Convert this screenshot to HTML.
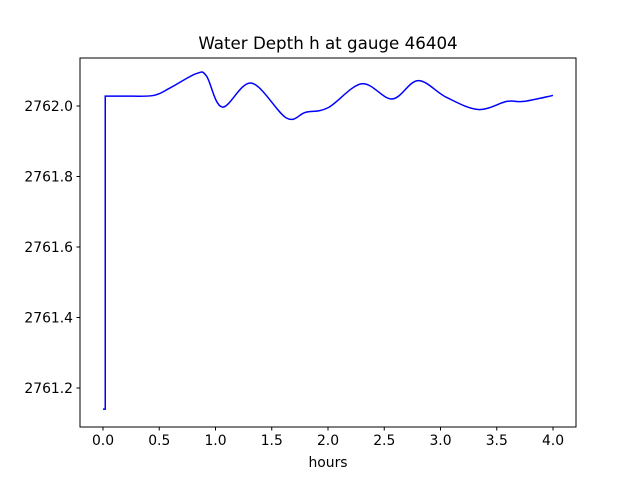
<!DOCTYPE html>
<html><head><meta charset="utf-8"><style>body{margin:0;background:#fff}svg{display:block;font-family:"DejaVu Sans","Liberation Sans",sans-serif}</style></head>
<body>
<svg id="c" width="640" height="480"></svg>
<script>
const hours=[0,0.02,0.02,0.2,0.45,0.6,0.83,0.92,1.06,1.32,1.63,1.8,2.0,2.3,2.57,2.8,3.05,3.335,3.59,3.74,4.0];
const depth=[2761.14,2761.14,2762.028,2762.028,2762.03,2762.052,2762.092,2762.085,2761.997,2762.065,2761.966,2761.982,2761.995,2762.063,2762.02,2762.072,2762.025,2761.99,2762.013,2762.013,2762.03];
const xTicks=[0,0.5,1,1.5,2,2.5,3,3.5,4];
const xTickLabels=["0.0","0.5","1.0","1.5","2.0","2.5","3.0","3.5","4.0"];
const yTicks=[2761.2,2761.4,2761.6,2761.8,2762.0];
const yTickLabels=["2761.2","2761.4","2761.6","2761.8","2762.0"];
const NS="http://www.w3.org/2000/svg",svg=document.getElementById('c');
const L=80,R=576,T=58,B=427;
const sx=v=>103+v*112.5, sy=v=>106+(2762-v)*352.5;
function mk(t,a,p){const e=document.createElementNS(NS,t);for(const k in a)e.setAttribute(k,a[k]);(p||svg).appendChild(e);return e;}
let d='';
for(let i=0;i<hours.length;i++){
 const x=sx(hours[i]),y=sy(depth[i]);
 if(i<4){d+=(i?'L':'M')+x+','+y;continue;}
 const p0=i>=2?i-2:i-1,p1=i-1,p3=Math.min(i+1,hours.length-1);
 const x0=sx(hours[p0]),y0=sy(depth[p0]),x1=sx(hours[p1]),y1=sy(depth[p1]),x3=sx(hours[p3]),y3=sy(depth[p3]);
 const c1x=x1+(x-x0)/6,c1y=y1+(y-y0)/6,c2x=x-(x3-x1)/6,c2y=y-(y3-y1)/6;
 d+='C'+c1x+','+c1y+' '+c2x+','+c2y+' '+x+','+y;
}
const line=mk('path',{d:d,fill:'none',stroke:'#0000ff','stroke-width':1.5});


const frame=mk('rect',{x:L,y:T,width:R-L,height:B-T,fill:'none',stroke:'#000','stroke-width':1});


xTicks.forEach((v,i)=>{const x=sx(v);
 mk('line',{x1:x,x2:x,y1:B,y2:B+3.5,stroke:'#000'});
 const t=mk('text',{x:x,y:B+18,'font-size':13.9,'text-anchor':'middle'});t.textContent=xTickLabels[i];
 
 });
yTicks.forEach((v,i)=>{const y=sy(v);
 mk('line',{x1:L-3.5,x2:L,y1:y,y2:y,stroke:'#000'});
 const t=mk('text',{x:L-7,y:y+5,'font-size':13.9,'text-anchor':'end'});t.textContent=yTickLabels[i];
 
 });
const xt=mk('text',{x:328,y:467,'font-size':13.9,'text-anchor':'middle'});xt.textContent='hours';


const ti=mk('text',{x:328,y:49,'font-size':16.7,'text-anchor':'middle'});ti.textContent='Water Depth h at gauge 46404';


</script>
</body></html>
